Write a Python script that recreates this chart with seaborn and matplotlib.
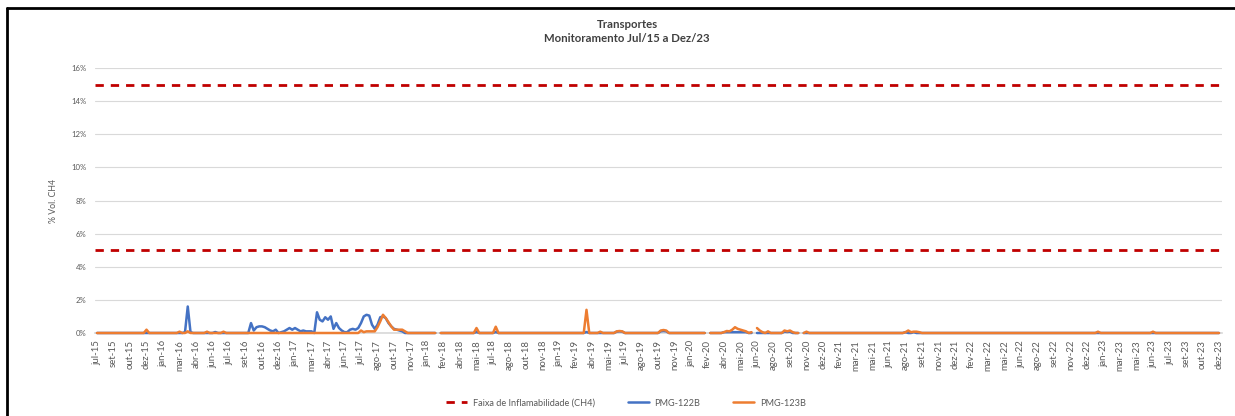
import numpy as np
import pandas as pd
import seaborn as sns
import matplotlib.pyplot as plt
from matplotlib.lines import Line2D

# eixo de categorias: um rotulo a cada 6 leituras
n_leituras = 409
meses = ['jul-15', 'set-15', 'out-15', 'dez-15', 'jan-16', 'mar-16', 'abr-16', 'jun-16', 'jul-16',
         'set-16', 'out-16', 'dez-16', 'jan-17', 'mar-17', 'abr-17', 'jun-17', 'jul-17', 'ago-17',
         'out-17', 'nov-17', 'jan-18', 'fev-18', 'abr-18', 'mai-18', 'jul-18', 'ago-18', 'out-18',
         'nov-18', 'jan-19', 'fev-19', 'abr-19', 'mai-19', 'jul-19', 'ago-19', 'out-19', 'nov-19',
         'jan-20', 'fev-20', 'abr-20', 'mai-20', 'jun-20', 'ago-20', 'set-20', 'nov-20', 'dez-20',
         'fev-21', 'mar-21', 'mai-21', 'jun-21', 'ago-21', 'set-21', 'nov-21', 'dez-21', 'fev-22',
         'mar-22', 'mai-22', 'jun-22', 'ago-22', 'set-22', 'nov-22', 'dez-22', 'jan-23', 'mar-23',
         'mai-23', 'jun-23', 'jul-23', 'set-23', 'out-23', 'dez-23']

# leituras diferentes de zero (% vol. CH4), por indice de leitura
pmg122b = {32: 0.05, 33: 1.6, 34: 0.05, 43: 0.06,
           56: 0.6, 57: 0.15, 58: 0.35, 59: 0.4, 60: 0.4, 61: 0.35, 62: 0.25, 63: 0.15, 64: 0.1, 65: 0.2,
           67: 0.05, 68: 0.1, 69: 0.2, 70: 0.3, 71: 0.2, 72: 0.3, 73: 0.2, 74: 0.1, 75: 0.15, 76: 0.1,
           77: 0.1, 78: 0.1,
           80: 1.25, 81: 0.8, 82: 0.7, 83: 0.95, 84: 0.8, 85: 1.0, 86: 0.25, 87: 0.6, 88: 0.3, 89: 0.15,
           90: 0.05, 91: 0.05, 92: 0.2, 93: 0.25, 94: 0.2, 95: 0.3, 96: 0.6, 97: 1.0, 98: 1.1, 99: 1.05,
           100: 0.5, 101: 0.25, 102: 0.5, 103: 0.95, 104: 1.0, 105: 0.9, 106: 0.6, 107: 0.4, 108: 0.25,
           109: 0.2, 110: 0.15, 111: 0.1,
           138: 0.06, 145: 0.06, 178: 0.06, 189: 0.08, 190: 0.1, 191: 0.08, 205: 0.1, 206: 0.12, 207: 0.1,
           228: 0.05, 229: 0.05, 230: 0.05, 231: 0.05, 232: 0.05, 233: 0.05, 234: 0.05, 235: 0.05,
           236: 0.05, 250: 0.08, 251: 0.06, 252: 0.08, 294: 0.05, 297: 0.05}
pmg123b = {18: 0.2, 30: 0.08, 33: 0.1, 40: 0.08, 46: 0.08,
           96: 0.15, 97: 0.05, 98: 0.1, 99: 0.1, 100: 0.1, 101: 0.1, 102: 0.35, 103: 0.7, 104: 1.1,
           105: 0.9, 106: 0.65, 107: 0.4, 108: 0.2, 109: 0.2, 110: 0.2, 111: 0.2, 112: 0.1,
           138: 0.3, 145: 0.38, 178: 1.4, 183: 0.08, 189: 0.1, 190: 0.12, 191: 0.1,
           205: 0.15, 206: 0.18, 207: 0.15,
           228: 0.05, 229: 0.12, 230: 0.1, 231: 0.2, 232: 0.35, 233: 0.25, 234: 0.2, 235: 0.15,
           236: 0.1, 238: 0.05, 240: 0.3, 241: 0.15, 242: 0.05, 244: 0.1,
           250: 0.15, 251: 0.1, 252: 0.15, 253: 0.05, 258: 0.08,
           294: 0.05, 295: 0.15, 296: 0.05, 297: 0.08, 298: 0.08, 299: 0.05, 364: 0.08, 384: 0.08}
sem_leitura = [124, 222, 239, 256]
faixa_inflamabilidade = [5, 15]

frames = []
for nome, leituras in [('PMG-122B', pmg122b), ('PMG-123B', pmg123b)]:
    valores = np.zeros(n_leituras)
    for i, v in leituras.items():
        valores[i] = v
    valores[sem_leitura] = np.nan
    trecho = np.cumsum(np.isnan(valores))
    frames.append(pd.DataFrame({'ponto': np.arange(n_leituras), 'valor': valores,
                                'serie': nome, 'trecho': trecho}))
df = pd.concat(frames, ignore_index=True).dropna()

sns.set_theme(style='white')
plt.rcParams['font.family'] = ['Lato', 'DejaVu Sans']

cores = {'PMG-122B': '#4472C4', 'PMG-123B': '#ED7D31'}
cinza = '#595959'

fig = plt.figure(figsize=(12.35, 4.16), dpi=100)
ax = fig.add_axes([95 / 1235, 83 / 416, 1127 / 1235, 265 / 416])

for y in faixa_inflamabilidade:
    ax.axhline(y, color='#C00000', lw=2, dashes=(3, 2.5), zorder=3)

sns.lineplot(data=df, x='ponto', y='valor', hue='serie', units='trecho', estimator=None,
             hue_order=['PMG-122B', 'PMG-123B'], palette=cores, linewidth=1.8, sort=False,
             legend=False, ax=ax, zorder=4)
for line in ax.lines:
    line.set_clip_on(False)

ax.set_xlim(-0.73, 409.1)
ax.set_ylim(0, 16)
ax.set_yticks(range(0, 17, 2))
ax.set_yticklabels([f'{v}%' for v in range(0, 17, 2)])
ax.set_xticks(range(0, n_leituras, 6))
ax.set_xticklabels(meses, rotation=90)
ax.set_xlabel('')
ax.set_ylabel('% Vol. CH4', fontsize=6.3, color=cinza)
ax.yaxis.set_label_coords((58 - 95) / 1127, 0.5)

ax.grid(axis='y', color='#D9D9D9', lw=0.8)
ax.grid(axis='x', visible=False)
for s in ['top', 'right', 'left']:
    ax.spines[s].set_visible(False)
ax.spines['bottom'].set_color('#D9D9D9')
ax.tick_params(axis='x', length=3, color='#BFBFBF', labelsize=6.9, labelcolor=cinza, pad=2)
ax.tick_params(axis='y', length=0, labelsize=5.6, labelcolor=cinza, pad=6)

fig.text(627 / 1235, 1 - 24 / 416, 'Transportes', ha='center', va='center',
         fontsize=8.2, fontweight='bold', color='#404040')
fig.text(627 / 1235, 1 - 39 / 416, 'Monitoramento Jul/15 a Dez/23', ha='center', va='center',
         fontsize=8.2, fontweight='bold', color='#404040')

handles = [Line2D([], [], color='#C00000', lw=2, dashes=(3, 2.5)),
           Line2D([], [], color=cores['PMG-122B'], lw=1.8),
           Line2D([], [], color=cores['PMG-123B'], lw=1.8)]
fig.legend(handles, ['Faixa de Inflamabilidade (CH4)', 'PMG-122B', 'PMG-123B'],
           loc='center', bbox_to_anchor=(626 / 1235, 1 - 403 / 416), ncol=3, frameon=False,
           fontsize=6.6, labelcolor=cinza, handlelength=2.3, handletextpad=0.6, columnspacing=3.6)

# moldura do grafico (cortada a direita e embaixo)
fig.add_artist(Line2D([7 / 1235, 7 / 1235], [0, 1 - 8 / 416], transform=fig.transFigure,
                      color='black', lw=2))
fig.add_artist(Line2D([7 / 1235, 1], [1 - 8 / 416, 1 - 8 / 416], transform=fig.transFigure,
                      color='black', lw=2))

fig.savefig('out.png', dpi=100)
